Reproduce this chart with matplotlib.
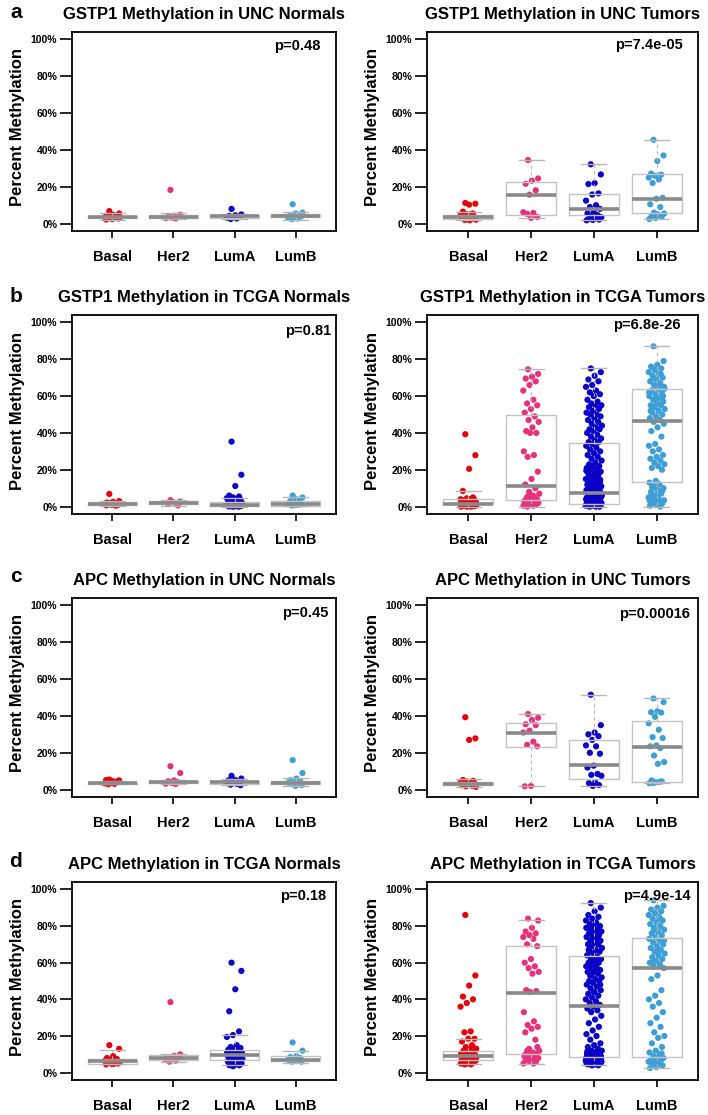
import numpy as np
import matplotlib
matplotlib.use("Agg")
import matplotlib.pyplot as plt

subtypes = ["Basal", "Her2", "LumA", "LumB"]
colors = ["#e8000b", "#e7317a", "#0a00c8", "#3d9fd6"]
yticks = [0, 20, 40, 60, 80, 100]
ytick_labels = ["0%", "20%", "40%", "60%", "80%", "100%"]

titles = ["GSTP1 Methylation in UNC Normals", "GSTP1 Methylation in UNC Tumors",
          "GSTP1 Methylation in TCGA Normals", "GSTP1 Methylation in TCGA Tumors",
          "APC Methylation in UNC Normals", "APC Methylation in UNC Tumors",
          "APC Methylation in TCGA Normals", "APC Methylation in TCGA Tumors"]
p_values = ["p=0.48", "p=7.4e-05", "p=0.81", "p=6.8e-26",
            "p=0.45", "p=0.00016", "p=0.18", "p=4.9e-14"]
letters = ["a", "b", "c", "d"]

# ---- GSTP1 UNC normals
gstp1_unc_nrm_basal = [6.8, 5.5, 4.8, 4.3, 4.0, 3.7, 3.5, 3.3, 3.0, 2.8, 2.5, 2.2, 3.8, 4.5, 3.2]
gstp1_unc_nrm_her2 = [18.3, 4.8, 4.3, 4.0, 3.6, 3.3, 3.0, 2.8, 3.5, 4.1]
gstp1_unc_nrm_luma = [8.0, 5.0, 4.5, 4.2, 3.8, 3.5, 3.2, 2.8, 2.5, 4.0]
gstp1_unc_nrm_lumb = [10.5, 6.0, 5.2, 4.7, 4.3, 3.8, 3.3, 2.8, 2.4, 4.0, 5.5]
# box stats: (whisker lo, q1, median, q3, whisker hi)
gstp1_unc_nrm_box = [(2.2, 3.0, 3.4, 4.2, 5.5), (2.5, 3.0, 3.5, 4.5, 5.5),
                     (2.5, 3.2, 3.9, 4.5, 5.2), (2.2, 3.5, 4.3, 5.2, 6.2)]

# ---- GSTP1 UNC tumors
gstp1_unc_tum_basal = [11.2, 10.8, 10.3, 6.5, 5.5, 5.0, 4.6, 4.2, 3.9, 3.6, 3.3, 3.0, 2.7, 2.4,
                       2.1, 1.8, 4.4, 3.1, 2.6, 3.8, 5.2, 2.0]
gstp1_unc_tum_her2 = [34.5, 24.5, 23.3, 21.6, 18.1, 15.7, 6.2, 5.8, 5.3, 3.6, 3.1]
gstp1_unc_tum_luma = [32.2, 26.7, 22.0, 21.5, 16.4, 15.8, 12.5, 10.0, 9.0, 8.0, 6.5, 5.5, 4.6,
                      4.0, 3.5, 3.0, 2.5, 2.2, 2.0, 1.8]
gstp1_unc_tum_lumb = [45.5, 37.0, 34.0, 27.2, 26.6, 26.0, 25.0, 24.0, 22.0, 14.0, 13.5, 10.5,
                      9.0, 6.0, 5.5, 5.0, 4.3, 3.8, 3.0, 2.5]
gstp1_unc_tum_box = [(1.8, 2.4, 3.6, 4.5, 6.5), (3.1, 4.6, 15.7, 22.6, 34.5),
                     (1.8, 4.7, 7.8, 15.9, 32.2), (2.5, 6.0, 13.6, 27.1, 45.5)]

# ---- GSTP1 TCGA normals
gstp1_tcga_nrm_basal = [6.9, 3.0, 2.6, 2.2, 2.0, 1.8, 1.6, 1.4, 1.2, 1.0, 0.9, 0.7, 0.5, 1.5, 2.4]
gstp1_tcga_nrm_her2 = [3.5, 2.8, 2.2, 1.5, 0.6]
gstp1_tcga_nrm_luma = [35.3, 17.3, 11.2, 6.0, 5.5, 5.0, 4.6, 4.2, 3.8, 3.5, 3.2, 2.8, 2.5, 2.2,
                       2.0, 1.8, 1.5, 1.3, 1.0, 0.8, 0.6, 0.4, 0.3, 0.2, 0.1, 0.0, 0.0, 1.2,
                       0.5, 2.6, 4.0, 0.7, 1.6, 0.2, 3.0]
gstp1_tcga_nrm_lumb = [6.0, 5.0, 4.0, 3.0, 2.5, 2.0, 1.5, 1.0, 0.6, 1.2, 0.8, 2.2]
gstp1_tcga_nrm_box = [(0.5, 1.0, 1.5, 2.4, 3.2), (0.6, 1.5, 2.2, 2.8, 3.5),
                      (0.0, 0.2, 0.7, 2.4, 4.6), (0.2, 0.6, 1.5, 3.0, 5.0)]

# ---- GSTP1 TCGA tumors
gstp1_tcga_tum_basal = [39.3, 27.9, 20.5, 8.5, 5.0, 4.5, 4.0, 4.0, 3.5, 3.5, 3.0, 3.0, 3.0, 2.5,
                        2.5, 2.5, 2.0, 2.0, 2.0, 2.0, 1.5, 1.5, 1.5, 1.5, 1.5, 1.0, 1.0, 1.0,
                        1.0, 1.0, 1.0, 0.8, 0.8, 0.5, 0.5, 0.5, 0.3, 0.3, 0.2, 0.0, 0.0, 0.0,
                        2.0, 3.5, 4.0]
gstp1_tcga_tum_her2 = [74.5, 72, 70.5, 69.5, 68, 66, 63, 58, 56, 55, 53, 51, 49, 47, 46, 43, 41,
                       40, 40, 30, 28, 27, 19, 15, 12, 10, 8, 7, 6, 5, 4, 4, 3, 3, 2.5, 2, 2,
                       1.5, 1, 1, 0.5, 0.5, 0, 3, 2, 1.5, 5, 6]
gstp1_tcga_tum_luma = [75, 73, 71, 69, 68, 66, 65, 63, 62, 61, 60, 58, 57, 56, 55, 55, 54, 53,
                       52, 51, 50, 50, 49, 48, 47, 46, 45, 44, 43, 42, 42, 41, 40, 39, 38, 37,
                       36, 35, 35, 34, 33, 32, 31, 30, 29, 28, 27, 26, 25, 24, 23, 22, 22, 21,
                       20, 20, 19, 18, 18, 17, 16, 15, 15, 14, 13, 13, 12, 12, 11, 11, 10, 10,
                       9, 9, 9, 8, 8, 8, 7, 7, 7, 7, 6, 6, 6, 6, 5, 5, 5, 5, 5, 4, 4, 4, 4, 4,
                       3, 3, 3, 3, 3, 2.5, 2.5, 2, 2, 2, 2, 1.5, 1.5, 1.5, 1, 1, 1, 1, 0.5, 0.5,
                       0.5, 0, 0, 0, 3.5, 4.5, 5.5, 6.5, 1.2, 2.2, 0.8, 0.3, 21.5, 19.5, 17.5,
                       16.5, 14.5, 12.5, 11.5, 10.5]
gstp1_tcga_tum_lumb = [87, 79, 77, 76, 75, 74, 73, 72, 71, 70, 69, 68, 67, 66, 65, 64, 63, 62,
                       61, 60, 59, 58, 57, 56, 55, 55, 54, 53, 52, 51, 50, 49, 48, 47, 46, 45,
                       43, 41, 38, 34, 33, 31, 30, 28, 27, 26, 25, 24, 23, 22, 21, 20, 14, 13,
                       12, 11, 10, 9, 8, 7, 6, 5, 4, 3, 2, 1, 0.5, 0, 2.5, 3.5, 4.5, 6.5, 1.5,
                       58, 62, 66, 70, 60, 56, 52, 72, 75, 64, 12.5, 10.5, 8.5, 5.5, 3.2, 1.2]
gstp1_tcga_tum_box = [(0.0, 1.3, 1.6, 4.0, 8.7), (0.0, 3.6, 11.2, 49.8, 74.6),
                      (0.0, 1.3, 7.6, 34.4, 75.0), (0.0, 13.2, 46.7, 63.8, 87.1)]

# ---- APC UNC normals
apc_unc_nrm_basal = [5.5, 5.0, 4.6, 4.3, 4.0, 3.7, 3.4, 3.1, 2.9, 4.8, 3.6, 5.2]
apc_unc_nrm_her2 = [12.7, 9.0, 5.0, 4.5, 4.0, 3.6, 3.2, 3.0, 4.2]
apc_unc_nrm_luma = [7.5, 6.0, 5.2, 4.7, 4.3, 3.9, 3.5, 3.1, 2.7, 2.4, 4.0, 5.0]
apc_unc_nrm_lumb = [16.0, 9.0, 6.0, 5.2, 4.6, 4.2, 3.8, 3.4, 3.0, 2.5, 2.0, 4.0, 3.6]
apc_unc_nrm_box = [(2.8, 3.1, 3.4, 3.8, 4.5), (3.0, 3.5, 4.0, 4.5, 5.0),
                   (2.4, 3.2, 3.9, 4.6, 6.0), (1.8, 3.0, 3.8, 4.8, 6.5)]

# ---- APC UNC tumors
apc_unc_tum_basal = [39.3, 27.8, 27.0, 5.2, 4.8, 4.4, 4.0, 3.6, 3.3, 3.0, 2.7, 2.4, 2.1, 1.8,
                     1.5, 3.8, 2.8, 4.6]
apc_unc_tum_her2 = [41.0, 39.0, 37.8, 35.5, 35.0, 32.0, 31.0, 26.0, 24.3, 23.5, 2.0, 1.8]
apc_unc_tum_luma = [51.5, 35.0, 31.0, 30.0, 29.0, 27.0, 24.0, 23.5, 20.0, 19.5, 13.0, 12.0,
                    8.5, 8.0, 7.5, 4.0, 3.5, 2.5, 2.0]
apc_unc_tum_lumb = [49.5, 47.5, 42.5, 42.0, 41.8, 39.5, 36.0, 32.5, 28.5, 28.0, 24.0, 23.5,
                    22.5, 18.5, 15.0, 14.0, 5.0, 4.5, 4.0, 3.5, 4.2, 3.6]
apc_unc_tum_box = [(1.5, 2.3, 3.1, 4.0, 5.5), (1.8, 22.9, 30.9, 36.0, 41.0),
                   (2.0, 5.5, 13.1, 26.7, 51.5), (3.5, 4.4, 23.0, 37.3, 49.5)]

# ---- APC TCGA normals
apc_tcga_nrm_basal = [15.0, 13.0, 9.0, 8.0, 7.5, 7.0, 6.5, 6.0, 5.5, 5.0, 4.7, 4.5, 5.2, 6.2,
                      5.8, 4.8]
apc_tcga_nrm_her2 = [38.5, 10.0, 9.2, 8.5, 8.0, 7.5, 7.0, 6.5, 6.0]
apc_tcga_nrm_luma = [60.0, 55.5, 45.5, 33.5, 22.5, 20.5, 19.5, 15.0, 14.0, 13.5, 13.0, 12.5,
                     12.0, 11.5, 11.0, 10.5, 10.0, 10.0, 9.5, 9.5, 9.0, 9.0, 8.5, 8.5, 8.0,
                     8.0, 7.5, 7.5, 7.0, 7.0, 6.5, 6.0, 6.0, 5.5, 5.0, 5.0, 4.5, 4.0, 4.0,
                     3.5, 11.0, 9.0, 12.0, 7.0, 8.5]
apc_tcga_nrm_lumb = [16.5, 12.0, 9.0, 8.5, 8.0, 7.5, 7.0, 6.5, 6.0, 6.0, 7.2]
apc_tcga_nrm_box = [(4.5, 4.9, 6.2, 7.6, 12.5), (6.0, 7.0, 7.8, 9.8, 10.0),
                    (4.0, 7.1, 9.5, 12.2, 20.5), (5.5, 6.4, 7.1, 9.3, 12.0)]

# ---- APC TCGA tumors
apc_tcga_tum_basal = [86, 53, 47.5, 41.5, 40, 38, 36, 22.5, 22, 18.5, 18.5, 17, 15, 14, 13,
                      12.5, 12, 11.5, 11, 10.5, 10, 10, 9.5, 9.5, 9, 9, 8.5, 8.5, 8, 8, 7.5,
                      7.5, 7, 7, 6.5, 6.5, 6, 6, 5.5, 5, 5, 4.5, 4.5, 10, 11, 9, 8, 12, 13, 7]
apc_tcga_tum_her2 = [84, 83, 79, 77, 76, 75, 74, 73, 70, 69, 62, 60, 58, 57, 55, 54, 45, 44.5,
                     44, 33, 28, 26, 25, 24, 22, 18, 13, 12, 11, 11, 10, 10, 9, 9, 8, 8, 7, 7,
                     6, 6, 5, 5, 12, 14, 10.5, 9.5]
apc_tcga_tum_luma = [92.5, 90, 88, 86, 85, 84, 83, 82, 81, 80, 80, 79, 78, 78, 77, 76, 76, 75,
                     74, 74, 73, 72, 72, 71, 70, 70, 69, 68, 67, 66, 66, 65, 64, 63, 62, 62,
                     61, 60, 60, 59, 58, 57, 57, 56, 55, 55, 54, 53, 52, 51, 50, 50, 49, 48,
                     47, 46, 45, 44, 43, 42, 41, 40, 39, 38, 37, 36, 35, 34, 33, 31, 29, 27,
                     25, 23, 21, 20, 18, 16, 15, 14, 13, 12, 12, 11, 11, 10, 10, 10, 9, 9, 9,
                     9, 8, 8, 8, 8, 7, 7, 7, 7, 7, 6, 6, 6, 6, 6, 5.5, 5.5, 5, 5, 5, 5, 4.5,
                     4.5, 4, 4, 6.5, 7.5, 8.5, 9.5, 10.5, 11.5, 5.8, 6.8, 7.8, 63, 67, 71, 75,
                     79, 58, 53, 48, 44]
apc_tcga_tum_lumb = [94, 91, 90, 89, 88, 87, 86, 85, 84, 83, 82, 81, 80, 79, 78, 77, 76, 75,
                     74, 73, 72, 71, 70, 69, 68, 67, 66, 65, 64, 63, 62, 61, 60, 59, 58, 57,
                     53, 51, 45, 42, 40, 38, 36, 33, 30, 27, 25, 22, 20, 19, 16, 14, 12, 11,
                     10, 9, 8, 8, 7, 7, 6, 6, 5, 5, 4, 3, 2.5, 84, 78, 72, 66, 60, 10.5, 6.5]
apc_tcga_tum_box = [(4.5, 6.9, 8.9, 11.8, 18.6), (5.0, 10.4, 43.5, 69.0, 83.5),
                    (4.0, 8.5, 36.5, 63.5, 92.5), (2.5, 8.5, 57.0, 73.5, 94.0)]

panel_points = [
    [gstp1_unc_nrm_basal, gstp1_unc_nrm_her2, gstp1_unc_nrm_luma, gstp1_unc_nrm_lumb],
    [gstp1_unc_tum_basal, gstp1_unc_tum_her2, gstp1_unc_tum_luma, gstp1_unc_tum_lumb],
    [gstp1_tcga_nrm_basal, gstp1_tcga_nrm_her2, gstp1_tcga_nrm_luma, gstp1_tcga_nrm_lumb],
    [gstp1_tcga_tum_basal, gstp1_tcga_tum_her2, gstp1_tcga_tum_luma, gstp1_tcga_tum_lumb],
    [apc_unc_nrm_basal, apc_unc_nrm_her2, apc_unc_nrm_luma, apc_unc_nrm_lumb],
    [apc_unc_tum_basal, apc_unc_tum_her2, apc_unc_tum_luma, apc_unc_tum_lumb],
    [apc_tcga_nrm_basal, apc_tcga_nrm_her2, apc_tcga_nrm_luma, apc_tcga_nrm_lumb],
    [apc_tcga_tum_basal, apc_tcga_tum_her2, apc_tcga_tum_luma, apc_tcga_tum_lumb],
]
panel_boxes = [gstp1_unc_nrm_box, gstp1_unc_tum_box, gstp1_tcga_nrm_box, gstp1_tcga_tum_box,
               apc_unc_nrm_box, apc_unc_tum_box, apc_tcga_nrm_box, apc_tcga_tum_box]

W, H = 708, 1115
fig = plt.figure(figsize=(W / 100, H / 100), dpi=100)
plt.rcParams['font.family'] = ['Liberation Sans', 'DejaVu Sans']

# frame positions in pixels (left, right) per column and (top, bottom) per row
cols = [(72, 336), (427, 698)]
rows = [(32, 231), (315, 514), (598, 797), (882, 1080)]
p_inset = [16, 15, 5, 17, 8, 8, 10, 7]
p_down = [14, 13, 16, 10, 15, 16, 14, 14]
letter_base = [18, 302, 582, 867]
narrow = ['Liberation Sans Narrow', 'Liberation Sans', 'DejaVu Sans']

for k in range(8):
    r, c = k // 2, k % 2
    x0, x1 = cols[c]
    t0, t1 = rows[r]
    ax = fig.add_axes([x0 / W, 1 - t1 / H, (x1 - x0) / W, (t1 - t0) / H])

    for i, vals in enumerate(panel_points[k]):
        n = len(vals)
        off = ((np.arange(n) * 0.6180339887 + 0.31) % 1 - 0.5) * 0.26
        ax.scatter(i + 1 + off, vals, s=20, color=colors[i], edgecolors='none', zorder=2)

    stats = []
    for (lo, q1, med, q3, hi) in panel_boxes[k]:
        stats.append(dict(whislo=lo, q1=q1, med=med, q3=q3, whishi=hi, fliers=[]))
    ax.bxp(stats, positions=[1, 2, 3, 4], widths=0.8, showfliers=False,
           boxprops=dict(color='#c4c4c4', lw=1.0),
           medianprops=dict(color='#8a8a8a', lw=2.6, solid_capstyle='butt'),
           whiskerprops=dict(color='#b8b8b8', lw=0.8, ls=(0, (3, 3))),
           capprops=dict(color='#b8b8b8', lw=1.0), capwidths=0.4,
           manage_ticks=False, zorder=3)

    ax.set_xlim(0.34, 4.66)
    ax.set_ylim(-4, 104)
    ax.set_xticks([1, 2, 3, 4])
    ax.set_xticklabels(subtypes, fontsize=10.5, fontweight='bold')
    ax.set_yticks(yticks)
    ax.set_yticklabels(ytick_labels, fontsize=7.5, fontweight='bold', family=narrow)
    ax.tick_params(axis='x', length=5, width=1.2, pad=8.5)
    ax.tick_params(axis='y', length=8.6, width=1.2, pad=2)
    for sp in ax.spines.values():
        sp.set_linewidth(1.3)

    ax.set_title(titles[k], fontsize=12, fontweight='bold', pad=9.5)
    ax.text(1 - p_inset[k] / (x1 - x0), 1 - p_down[k] / (t1 - t0), p_values[k],
            transform=ax.transAxes, ha='right', va='center', fontsize=10.5,
            fontweight='bold', zorder=5)

    lab_x = 18 if c == 0 else 372
    fig.text(lab_x / W, 1 - ((t0 + t1) / 2 - 4) / H, "Percent Methylation",
             rotation=90, ha='center', va='center', fontsize=12, fontweight='bold')

for r in range(4):
    fig.text(16 / W, 1 - letter_base[r] / H, letters[r], ha='center', va='baseline',
             fontsize=15, fontweight='bold')

fig.savefig("out.png", dpi=100)
